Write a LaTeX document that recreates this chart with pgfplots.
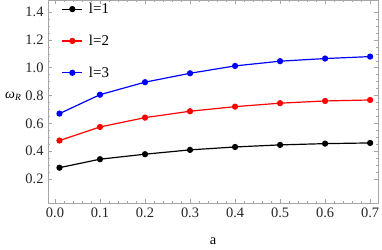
\documentclass[border=0pt]{standalone}
\usepackage{fontspec}
\setmainfont{Liberation Serif}
\usepackage{pgfplots}
\pgfplotsset{compat=1.18}
\begin{document}
\begin{tikzpicture}[x=1bp,y=1bp]
\useasboundingbox (-48,-47) rectangle (334,203);
\begin{axis}[
  at={(0,0)}, anchor=south west,
  scale only axis, width=330bp, height=203bp,
  clip mode=individual,
  xmin=-0.0155, xmax=0.7175, ymin=0.027, ymax=1.487,
  xtick={0,0.1,...,0.7}, ytick={0.2,0.4,...,1.4},
  minor x tick num=4, minor y tick num=3,
  xticklabel style={yshift=-1bp},
  yticklabel style={xshift=-1bp},
  x tick label style={/pgf/number format/.cd,fixed,fixed zerofill,precision=1},
  y tick label style={/pgf/number format/.cd,fixed,fixed zerofill,precision=1},
  /pgf/number format/assume math mode=true,
  tick label style={font=\fontsize{14.5}{16}\selectfont, text=black!85},
  axis line style={draw=gray!70, line width=0.6pt},
  tick style={draw=gray!70, line width=0.5pt},
  major tick length=4bp, minor tick length=2.2bp,
  tick align=inside,
  legend style={at={(axis description cs:0.035,1.005)}, anchor=north west, draw=none, fill=none,
    font=\fontsize{15}{17}\selectfont, row sep=16bp, inner sep=2bp,
    nodes={inner xsep=6bp}},
  legend cell align=left,
  legend image code/.code={\draw[#1] (0bp,0bp) -- (20bp,0bp); \fill[#1] (10bp,0bp) circle (2.5bp);},
]
\addplot[black, line width=1.2pt, mark=*, mark size=2.5pt] coordinates {
(0.01,0.281) (0.1,0.342) (0.2,0.378) (0.3,0.409) (0.4,0.430) (0.5,0.445) (0.6,0.454) (0.7,0.459)};
\addlegendentry{l=1}
\addplot[red, line width=1.2pt, mark=*, mark size=2.5pt] coordinates {
(0.01,0.476) (0.1,0.574) (0.2,0.641) (0.3,0.687) (0.4,0.720) (0.5,0.745) (0.6,0.761) (0.7,0.768)};
\addlegendentry{l=2}
\addplot[blue, line width=1.2pt, mark=*, mark size=2.5pt] coordinates {
(0.01,0.670) (0.1,0.806) (0.2,0.896) (0.3,0.960) (0.4,1.013) (0.5,1.047) (0.6,1.066) (0.7,1.080)};
\addlegendentry{l=3}
\node[font=\fontsize{14}{16}\selectfont, inner sep=0pt] at (axis description cs:-0.106,0.525) {\textit{ω}\raisebox{-0.35ex}{\fontsize{9.5}{11}\selectfont\textit{R}}};
\node[font=\fontsize{14.5}{16}\selectfont] at (axis description cs:0.5,-0.19) {a};
\end{axis}
\end{tikzpicture}
\end{document}
